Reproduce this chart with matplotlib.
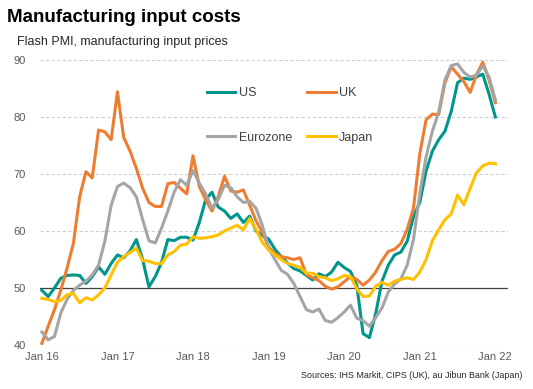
import numpy as np
import matplotlib
matplotlib.use("Agg")
import matplotlib.pyplot as plt

plt.rcParams["font.family"] = ["Liberation Sans", "DejaVu Sans"]

# monthly flash PMI input prices, Jan 2016 - Jan 2022
months = np.arange(73)
tick_pos = [0, 12, 24, 36, 48, 60, 72]
tick_labels = ["Jan 16", "Jan 17", "Jan 18", "Jan 19", "Jan 20", "Jan 21", "Jan 22"]

us = [49.6, 48.5, 50.0, 51.7, 52.2, 52.3, 52.2, 50.8, 52.0, 53.7, 52.4, 54.3,
      55.8, 55.3, 56.5, 58.5, 55.0, 50.2, 52.0, 54.5, 58.5, 58.3, 58.9, 58.9,
      58.4, 61.5, 65.5, 66.8, 64.2, 63.5, 62.2, 63.0, 61.5, 62.6, 60.0, 59.2,
      58.6, 56.8, 55.5, 54.4, 53.4, 53.0, 52.2, 51.4, 52.5, 52.0, 52.8, 54.5,
      53.6, 52.9, 50.5, 42.0, 41.3, 45.5, 51.2, 54.0, 55.8, 56.3, 58.2, 62.5,
      65.0, 70.5, 74.0, 76.0, 77.5, 81.0, 86.0, 86.8, 86.6, 87.0, 87.5, 84.0,
      80.0]
uk = [40.3, 43.3, 46.2, 49.6, 53.5, 57.8, 66.0, 70.4, 69.3, 77.7, 77.4, 76.0,
      84.4, 76.4, 74.0, 71.0, 67.5, 65.0, 64.3, 64.3, 68.3, 68.5, 67.5, 66.5,
      73.2, 67.8, 65.5, 63.5, 66.0, 69.6, 67.0, 66.8, 67.2, 64.5, 61.8, 59.8,
      57.2, 56.0, 55.5, 55.3, 55.0, 55.3, 52.3, 51.8, 51.3, 50.3, 49.8, 50.2,
      51.1, 52.0, 51.5, 50.5, 51.4, 52.8, 54.8, 56.4, 56.8, 57.8, 60.3, 64.0,
      73.5, 79.5, 80.5, 80.4, 86.0, 88.8, 87.5, 86.2, 84.3, 87.4, 89.6, 86.5,
      82.5]
eurozone = [42.3, 40.9, 41.5, 45.6, 48.0, 49.6, 50.5, 51.2, 52.3, 54.0, 58.2, 64.5,
            67.8, 68.4, 67.6, 66.0, 62.0, 58.3, 57.9, 60.5, 63.5, 66.8, 69.0, 68.0,
            70.6, 68.4, 66.5, 64.0, 65.5, 68.0, 67.6, 66.0, 65.0, 65.2, 64.0, 61.0,
            57.0, 55.0, 53.1, 52.4, 50.8, 48.5, 46.2, 45.8, 46.3, 44.3, 44.0, 44.8,
            45.8, 47.0, 44.7, 44.3, 43.3, 44.8, 46.5, 49.3, 50.7, 51.6, 54.0, 58.5,
            66.5, 73.0, 77.5, 80.8, 86.5, 89.0, 89.3, 87.8, 87.0, 87.3, 89.0, 87.0,
            83.0]
japan = [48.2, 48.0, 47.6, 47.8, 48.8, 49.1, 47.4, 48.3, 47.9, 48.8, 50.0, 52.3,
         54.5, 55.5, 56.2, 57.0, 54.8, 54.7, 54.3, 54.3, 55.8, 56.4, 57.5, 57.7,
         59.0, 58.7, 58.8, 59.0, 59.3, 60.0, 60.5, 61.0, 60.2, 62.2, 60.3, 58.0,
         56.7, 55.8, 55.0, 54.3, 54.0, 53.6, 52.6, 52.6, 52.0, 51.8, 51.3, 51.6,
         52.2, 52.0, 49.9, 48.5, 48.6, 50.3, 51.0, 50.5, 51.2, 51.5, 51.8, 51.5,
         52.8, 55.0, 58.3, 60.2, 62.0, 63.0, 66.3, 64.6, 67.5, 70.2, 71.4, 71.9,
         71.8]

fig = plt.figure(figsize=(5.33, 3.89), dpi=100)
ax = fig.add_axes((0.075, 0.113, 0.878, 0.733))

lw = 2.2
l_us, = ax.plot(months, us, color="#00968a", lw=lw, label="US", zorder=3)
l_uk, = ax.plot(months, uk, color="#ed7d31", lw=lw, label="UK", zorder=3)
l_ez, = ax.plot(months, eurozone, color="#a5a5a5", lw=lw, label="Eurozone", zorder=3)
l_jp, = ax.plot(months, japan, color="#ffc000", lw=lw, label="Japan", zorder=3)

ax.axhline(50, color="#404040", lw=0.9, zorder=2)
for y in [40, 60, 70, 80, 90]:
    ax.axhline(y, color="#cfcfcf", lw=0.8, ls=(0, (3, 2)), zorder=1)

ax.set_xlim(-0.3, 74)
ax.set_ylim(40, 90)
ax.set_yticks([40, 50, 60, 70, 80, 90])
ax.set_xticks(tick_pos)
ax.set_xticklabels(tick_labels)
ax.tick_params(length=0, labelsize=8, labelcolor="#595959")
ax.tick_params(axis="y", pad=10)
ax.tick_params(axis="x", pad=5)
for s in ax.spines.values():
    s.set_visible(False)

leg = ax.legend([l_us, l_ez, l_uk, l_jp], ["US", "Eurozone", "UK", "Japan"],
                ncol=2, loc="center", bbox_to_anchor=(0.534, 0.805),
                frameon=False, fontsize=9, handlelength=2.3, handletextpad=0.25,
                columnspacing=1.2, labelspacing=2.6)
for t in leg.get_texts():
    t.set_color("#404040")

fig.text(0.013, 0.943, "Manufacturing input costs", fontsize=13.5,
         fontweight="bold", va="baseline", ha="left")
fig.text(0.032, 0.884, "Flash PMI, manufacturing input prices", fontsize=9,
         va="baseline", ha="left", color="#262626")
fig.text(0.981, 0.027, "Sources: IHS Markit, CIPS (UK), au Jibun Bank (Japan)",
         fontsize=6.4, va="baseline", ha="right", color="#262626")

fig.savefig("out.png", dpi=100)
